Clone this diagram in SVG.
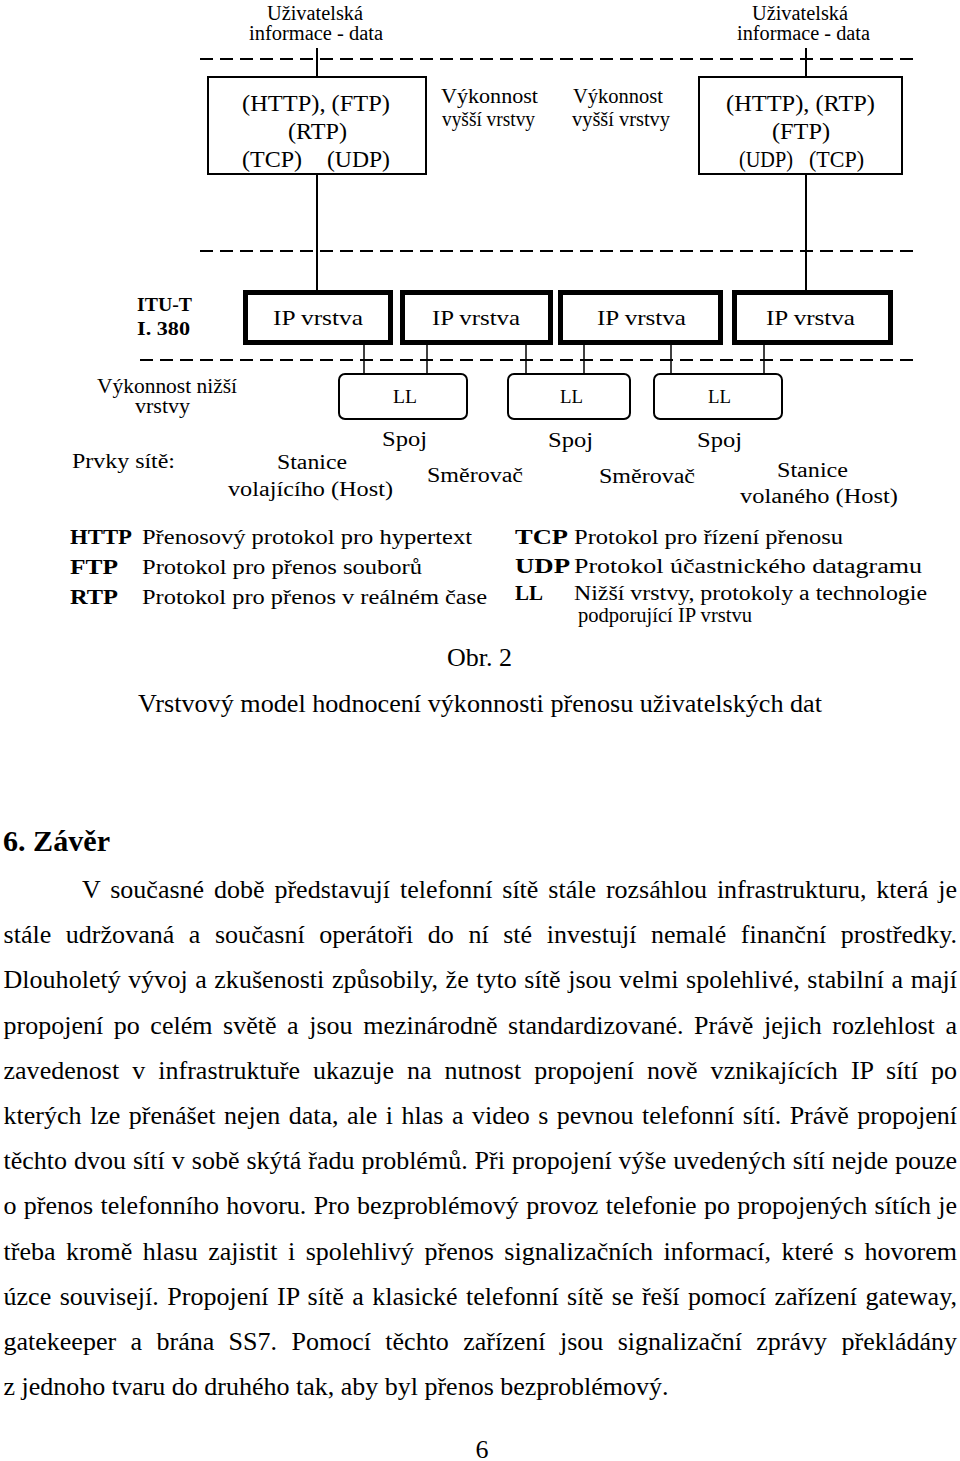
<svg xmlns="http://www.w3.org/2000/svg" width="960" height="1461" viewBox="0 0 960 1461">
<style>
  text { font-family: "Liberation Serif", "Times New Roman", serif; fill: #000; }
  .lbl { font-size: 20px; }
  .box-t { font-size: 23px; }
  .ip-t { font-size: 21px; }
  .ll-t { font-size: 19px; }
  .abbr { font-size: 21px; font-weight: bold; }
  .itu { font-size: 19px; font-weight: bold; }
  .p { font-size: 26px; }
  .dash { stroke: #000; stroke-width: 2; stroke-dasharray: 13 7; fill: none; }
  .ln { stroke: #000; stroke-width: 2; fill: none; }
  .thin { stroke: #000; stroke-width: 1.5; fill: none; }
  .box { fill: #fff; stroke: #000; stroke-width: 2; }
  .ip { fill: #fff; stroke: #000; stroke-width: 5; }
  .ll { fill: #fff; stroke: #000; stroke-width: 2; }
</style>
<rect x="0" y="0" width="960" height="1461" fill="#fff"/>

<!-- layer boundaries (dashed) -->
<g id="layer-lines">
  <line class="dash" x1="200" y1="59" x2="913" y2="59"/>
  <line class="dash" x1="200" y1="251" x2="913" y2="251"/>
  <line class="dash" x1="140" y1="360" x2="913" y2="360"/>
</g>

<!-- connectors -->
<g id="connectors">
  <line class="ln" x1="317" y1="48" x2="317" y2="77"/>
  <line class="ln" x1="317" y1="174" x2="317" y2="290"/>
  <line class="ln" x1="806" y1="48" x2="806" y2="77"/>
  <line class="ln" x1="806" y1="174" x2="806" y2="290"/>
  <line class="thin" x1="364" y1="345" x2="364" y2="374"/>
  <line class="thin" x1="427" y1="345" x2="427" y2="374"/>
  <line class="thin" x1="526" y1="345" x2="526" y2="374"/>
  <line class="thin" x1="584" y1="345" x2="584" y2="374"/>
  <line class="thin" x1="671" y1="345" x2="671" y2="374"/>
  <line class="thin" x1="764" y1="345" x2="764" y2="374"/>
</g>

<!-- top labels -->
<g id="user-info-left">
  <text class="lbl" x="267" y="20" textLength="96" lengthAdjust="spacingAndGlyphs">Uživatelská</text>
  <text class="lbl" x="249" y="40" textLength="134" lengthAdjust="spacingAndGlyphs">informace - data</text>
</g>
<g id="user-info-right">
  <text class="lbl" x="752" y="20" textLength="96" lengthAdjust="spacingAndGlyphs">Uživatelská</text>
  <text class="lbl" x="737" y="40" textLength="133" lengthAdjust="spacingAndGlyphs">informace - data</text>
</g>

<!-- protocol boxes -->
<g id="host-left">
  <rect class="box" x="208" y="77" width="218" height="97"/>
  <text class="box-t" x="242" y="111" textLength="148" lengthAdjust="spacingAndGlyphs">(HTTP), (FTP)</text>
  <text class="box-t" x="288" y="139" textLength="59" lengthAdjust="spacingAndGlyphs">(RTP)</text>
  <text class="box-t" x="242" y="167" textLength="60" lengthAdjust="spacingAndGlyphs">(TCP)</text>
  <text class="box-t" x="327" y="167" textLength="63" lengthAdjust="spacingAndGlyphs">(UDP)</text>
</g>
<g id="host-right">
  <rect class="box" x="699" y="77" width="203" height="97"/>
  <text class="box-t" x="726" y="111" textLength="149" lengthAdjust="spacingAndGlyphs">(HTTP), (RTP)</text>
  <text class="box-t" x="772" y="139" textLength="58" lengthAdjust="spacingAndGlyphs">(FTP)</text>
  <text class="box-t" x="739" y="167" textLength="54" lengthAdjust="spacingAndGlyphs">(UDP)</text>
  <text class="box-t" x="809" y="167" textLength="55" lengthAdjust="spacingAndGlyphs">(TCP)</text>
</g>

<g id="upper-perf-left">
  <text class="lbl" x="441" y="103" textLength="97" lengthAdjust="spacingAndGlyphs">Výkonnost</text>
  <text class="lbl" x="442" y="126" textLength="93" lengthAdjust="spacingAndGlyphs">vyšší vrstvy</text>
</g>
<g id="upper-perf-right">
  <text class="lbl" x="573" y="103" textLength="90" lengthAdjust="spacingAndGlyphs">Výkonnost</text>
  <text class="lbl" x="572" y="126" textLength="98" lengthAdjust="spacingAndGlyphs">vyšší vrstvy</text>
</g>

<g id="itu">
  <text class="itu" x="137" y="311" textLength="55" lengthAdjust="spacingAndGlyphs">ITU-T</text>
  <text class="itu" x="137" y="335" textLength="53" lengthAdjust="spacingAndGlyphs">I. 380</text>
</g>

<!-- IP layer boxes -->
<g id="ip1">
  <rect class="ip" x="245.5" y="292.5" width="145" height="50"/>
  <text class="ip-t" x="273" y="325" textLength="90" lengthAdjust="spacingAndGlyphs">IP vrstva</text>
</g>
<g id="ip2">
  <rect class="ip" x="402.5" y="292.5" width="148" height="50"/>
  <text class="ip-t" x="432" y="325" textLength="88" lengthAdjust="spacingAndGlyphs">IP vrstva</text>
</g>
<g id="ip3">
  <rect class="ip" x="560.5" y="292.5" width="160" height="50"/>
  <text class="ip-t" x="597" y="325" textLength="89" lengthAdjust="spacingAndGlyphs">IP vrstva</text>
</g>
<g id="ip4">
  <rect class="ip" x="734.5" y="292.5" width="156" height="50"/>
  <text class="ip-t" x="766" y="325" textLength="89" lengthAdjust="spacingAndGlyphs">IP vrstva</text>
</g>

<!-- LL boxes -->
<g id="ll1">
  <rect class="ll" x="339" y="374" width="128" height="45" rx="6"/>
  <text class="ll-t" x="393" y="403" textLength="24" lengthAdjust="spacingAndGlyphs">LL</text>
</g>
<g id="ll2">
  <rect class="ll" x="508" y="374" width="122" height="45" rx="6"/>
  <text class="ll-t" x="560" y="403" textLength="23" lengthAdjust="spacingAndGlyphs">LL</text>
</g>
<g id="ll3">
  <rect class="ll" x="654" y="374" width="128" height="45" rx="6"/>
  <text class="ll-t" x="708" y="403" textLength="23" lengthAdjust="spacingAndGlyphs">LL</text>
</g>

<g id="lower-perf">
  <text class="lbl" x="97" y="393" textLength="140" lengthAdjust="spacingAndGlyphs">Výkonnost nižší</text>
  <text class="lbl" x="135" y="413" textLength="55" lengthAdjust="spacingAndGlyphs">vrstvy</text>
</g>

<g id="links">
  <text class="lbl" x="382" y="446" textLength="45" lengthAdjust="spacingAndGlyphs">Spoj</text>
  <text class="lbl" x="548" y="447" textLength="45" lengthAdjust="spacingAndGlyphs">Spoj</text>
  <text class="lbl" x="697" y="447" textLength="45" lengthAdjust="spacingAndGlyphs">Spoj</text>
</g>

<g id="network-elements">
  <text class="lbl" x="72" y="468" textLength="103" lengthAdjust="spacingAndGlyphs">Prvky sítě:</text>
  <text class="lbl" x="277" y="469" textLength="70" lengthAdjust="spacingAndGlyphs">Stanice</text>
  <text class="lbl" x="228" y="496" textLength="165" lengthAdjust="spacingAndGlyphs">volajícího (Host)</text>
  <text class="lbl" x="427" y="482" textLength="96" lengthAdjust="spacingAndGlyphs">Směrovač</text>
  <text class="lbl" x="599" y="483" textLength="96" lengthAdjust="spacingAndGlyphs">Směrovač</text>
  <text class="lbl" x="777" y="477" textLength="71" lengthAdjust="spacingAndGlyphs">Stanice</text>
  <text class="lbl" x="740" y="503" textLength="158" lengthAdjust="spacingAndGlyphs">volaného (Host)</text>
</g>

<!-- legend -->
<g id="legend">
  <text class="abbr" x="70" y="544" textLength="62" lengthAdjust="spacingAndGlyphs">HTTP</text>
  <text class="lbl" x="142" y="544" textLength="330" lengthAdjust="spacingAndGlyphs">Přenosový protokol pro hypertext</text>
  <text class="abbr" x="70" y="574" textLength="48" lengthAdjust="spacingAndGlyphs">FTP</text>
  <text class="lbl" x="142" y="574" textLength="280" lengthAdjust="spacingAndGlyphs">Protokol pro přenos souborů</text>
  <text class="abbr" x="70" y="604" textLength="48" lengthAdjust="spacingAndGlyphs">RTP</text>
  <text class="lbl" x="142" y="604" textLength="345" lengthAdjust="spacingAndGlyphs">Protokol pro přenos v reálném čase</text>
  <text class="abbr" x="515" y="544" textLength="53" lengthAdjust="spacingAndGlyphs">TCP</text>
  <text class="lbl" x="574" y="544" textLength="269" lengthAdjust="spacingAndGlyphs">Protokol pro řízení  přenosu</text>
  <text class="abbr" x="515" y="573" textLength="55" lengthAdjust="spacingAndGlyphs">UDP</text>
  <text class="lbl" x="574" y="573" textLength="348" lengthAdjust="spacingAndGlyphs">Protokol účastnického datagramu</text>
  <text class="abbr" x="515" y="600" textLength="28" lengthAdjust="spacingAndGlyphs">LL</text>
  <text class="lbl" x="574" y="600" textLength="353" lengthAdjust="spacingAndGlyphs">Nižší vrstvy, protokoly a technologie</text>
  <text class="lbl" x="578" y="622" textLength="174" lengthAdjust="spacingAndGlyphs">podporující IP vrstvu</text>
</g>

<!-- caption -->
<g id="caption">
  <text class="p" x="447" y="666">Obr. 2</text>
  <text class="p" x="138" y="712" textLength="684" lengthAdjust="spacingAndGlyphs">Vrstvový model hodnocení výkonnosti přenosu uživatelských dat</text>
</g>

<!-- body text -->
<g id="body">
  <text x="3" y="851" style="font-size:30px;font-weight:bold" textLength="107" lengthAdjust="spacingAndGlyphs">6. Závěr</text>
  <text class="p" x="82" y="898" style="word-spacing:3.4px" textLength="875" lengthAdjust="spacing">V současné době představují telefonní sítě stále rozsáhlou infrastrukturu, která je</text>
  <text class="p" x="3.5" y="943.2" style="word-spacing:8px" textLength="953.5" lengthAdjust="spacing">stále udržovaná a současní operátoři do ní sté investují nemalé finanční prostředky.</text>
  <text class="p" x="3.5" y="988.4" style="word-spacing:1px" textLength="953.5" lengthAdjust="spacing">Dlouholetý vývoj a zkušenosti způsobily, že tyto sítě jsou velmi spolehlivé, stabilní a mají</text>
  <text class="p" x="3.5" y="1033.6" style="word-spacing:4.1px" textLength="953.5" lengthAdjust="spacing">propojení po celém světě a jsou mezinárodně standardizované. Právě jejich rozlehlost a</text>
  <text class="p" x="3.5" y="1078.8" style="word-spacing:6.5px" textLength="953.5" lengthAdjust="spacing">zavedenost v infrastruktuře ukazuje na nutnost propojení nově vznikajících IP sítí po</text>
  <text class="p" x="3.5" y="1124" style="word-spacing:2px" textLength="953.5" lengthAdjust="spacing">kterých lze přenášet nejen data, ale i hlas a video s pevnou telefonní sítí. Právě propojení</text>
  <text class="p" x="3.5" y="1169.2" style="word-spacing:0.5px" textLength="953.5" lengthAdjust="spacing">těchto dvou sítí v sobě skýtá řadu problémů. Při propojení výše uvedených sítí nejde pouze</text>
  <text class="p" x="3.5" y="1214.4" style="word-spacing:0.8px" textLength="953.5" lengthAdjust="spacing">o přenos telefonního hovoru. Pro bezproblémový provoz telefonie po propojených sítích je</text>
  <text class="p" x="3.5" y="1259.6" style="word-spacing:4px" textLength="953.5" lengthAdjust="spacing">třeba kromě hlasu zajistit i spolehlivý přenos signalizačních informací, které s hovorem</text>
  <text class="p" x="3.5" y="1304.8" style="word-spacing:1.9px" textLength="953.5" lengthAdjust="spacing">úzce souvisejí. Propojení IP sítě a klasické telefonní sítě se řeší pomocí zařízení gateway,</text>
  <text class="p" x="3.5" y="1350" style="word-spacing:7.9px" textLength="953.5" lengthAdjust="spacing">gatekeeper a brána SS7. Pomocí těchto zařízení jsou signalizační zprávy překládány</text>
  <text class="p" x="3.5" y="1395.2">z jednoho tvaru do druhého tak, aby byl přenos bezproblémový.</text>
  <text class="p" x="482" y="1458" text-anchor="middle">6</text>
</g>
</svg>
